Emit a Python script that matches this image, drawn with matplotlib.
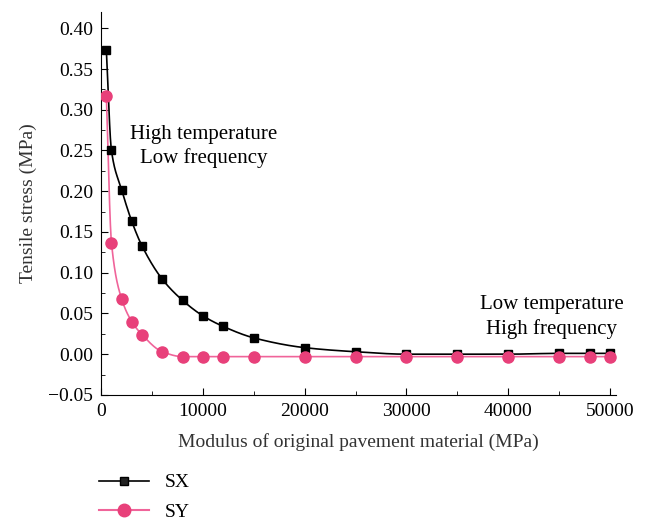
import numpy as np
import matplotlib
matplotlib.use("Agg")
import matplotlib.pyplot as plt
from matplotlib.ticker import MultipleLocator

plt.rcParams['font.family'] = ['Liberation Serif', 'DejaVu Serif']

modulus = [500, 1000, 2000, 3000, 4000, 6000, 8000, 10000, 12000, 15000,
           20000, 25000, 30000, 35000, 40000, 45000, 48000, 50000]
sx = [0.373, 0.250, 0.202, 0.163, 0.133, 0.092, 0.066, 0.047, 0.034, 0.020,
      0.008, 0.003, 0.000, 0.000, 0.000, 0.001, 0.001, 0.001]
sy = [0.317, 0.137, 0.068, 0.040, 0.024, 0.003, -0.003, -0.003, -0.003, -0.003,
      -0.003, -0.003, -0.003, -0.003, -0.003, -0.003, -0.003, -0.003]


def pchip(x, y, xn):
    x = np.asarray(x, float); y = np.asarray(y, float)
    h = np.diff(x); d = np.diff(y) / h
    m = np.zeros_like(y)
    for k in range(1, len(x) - 1):
        if d[k - 1] * d[k] > 0:
            w1 = 2 * h[k] + h[k - 1]; w2 = h[k] + 2 * h[k - 1]
            m[k] = (w1 + w2) / (w1 / d[k - 1] + w2 / d[k])
    m[0] = d[0]; m[-1] = d[-1]
    idx = np.clip(np.searchsorted(x, xn) - 1, 0, len(h) - 1)
    t = (xn - x[idx]) / h[idx]
    h00 = 2 * t**3 - 3 * t**2 + 1; h10 = t**3 - 2 * t**2 + t
    h01 = -2 * t**3 + 3 * t**2; h11 = t**3 - t**2
    return h00 * y[idx] + h10 * h[idx] * m[idx] + h01 * y[idx + 1] + h11 * h[idx] * m[idx + 1]


fig = plt.figure(figsize=(6.45, 5.21), dpi=100)
ax = fig.add_axes([0.157, 0.242, 0.798, 0.735])

xs = np.linspace(modulus[0], modulus[-1], 2000)
ax.plot(xs, pchip(modulus, sx, xs), color='black', lw=1.2, zorder=2)
ax.plot(xs, pchip(modulus, sy, xs), color='#f0649a', lw=1.2, zorder=2)
ax.plot(modulus, sx, 's', color='black', ms=6, zorder=3)
ax.plot(modulus, sy, 'o', color='#e8407a', ms=8, zorder=3)

hx, = ax.plot([], [], '-s', color='black', ms=6, lw=1.2, markerfacecolor='#222222')
hy, = ax.plot([], [], '-o', color='#f0649a', ms=9, lw=1.5, markerfacecolor='#e8407a', markeredgecolor='#e8407a')

ax.set_xlim(0, 50600)
ax.set_ylim(-0.05, 0.42)
ax.xaxis.set_major_locator(MultipleLocator(10000))
ax.xaxis.set_minor_locator(MultipleLocator(5000))
ax.yaxis.set_major_locator(MultipleLocator(0.05))
ax.yaxis.set_minor_locator(MultipleLocator(0.025))
ax.yaxis.set_major_formatter(matplotlib.ticker.FuncFormatter(lambda v, p: f"{v:.2f}".replace('-', '\u2212')))
ax.tick_params(which='both', direction='in', labelsize=14, pad=6)
ax.tick_params(which='major', length=5)
ax.tick_params(which='minor', length=3)
ax.spines['top'].set_visible(False)
ax.spines['right'].set_visible(False)

ax.set_xlabel('Modulus of original pavement material (MPa)', fontsize=14, color='#333333', labelpad=9)
ax.set_ylabel('Tensile stress (MPa)', fontsize=14, color='#333333', labelpad=8)

ax.text(10100, 0.270, 'High temperature', ha='center', va='center', fontsize=15)
ax.text(10100, 0.241, 'Low frequency', ha='center', va='center', fontsize=15)
ax.text(44300, 0.061, 'Low temperature', ha='center', va='center', fontsize=15)
ax.text(44300, 0.031, 'High frequency', ha='center', va='center', fontsize=15)

fig.legend([hx, hy], ['SX', 'SY'], loc='upper left', bbox_to_anchor=(0.135, 0.113),
           frameon=False, fontsize=14, handlelength=2.6, labelspacing=0.62,
           borderaxespad=0.2)

fig.savefig('out.png', dpi=100)
